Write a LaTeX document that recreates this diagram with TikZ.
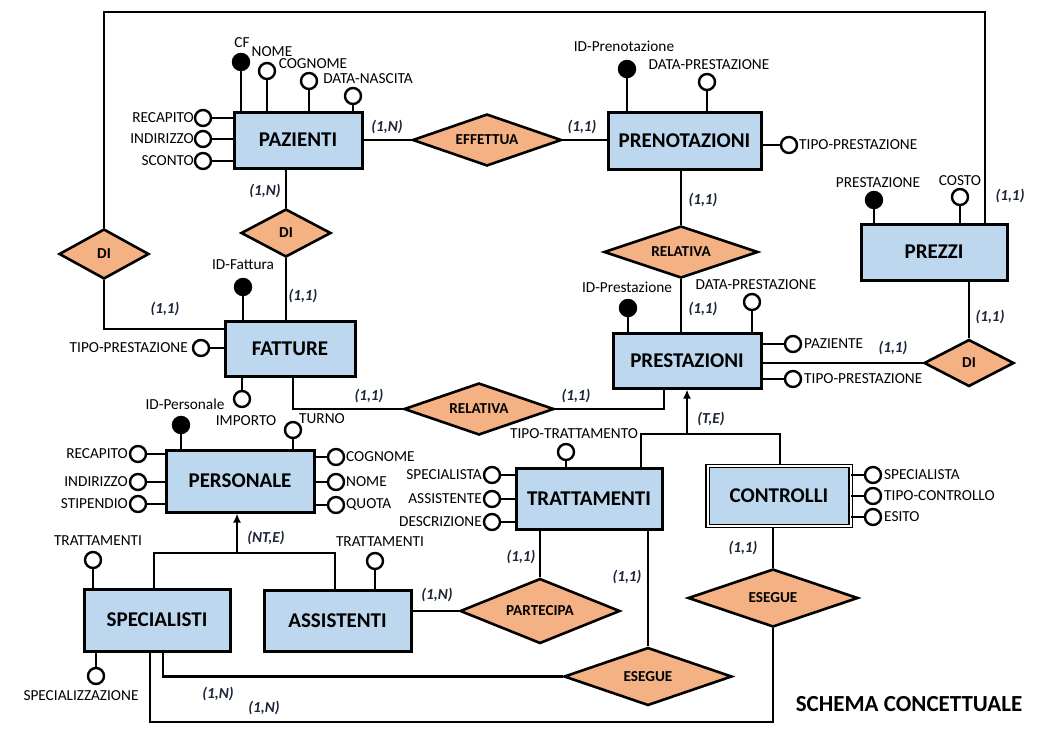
\documentclass[tikz,border=0pt]{standalone}
\usepackage{fontspec}
\setmainfont{Carlito}
\usetikzlibrary{shapes.geometric,arrows.meta}
\definecolor{entblue}{RGB}{189,215,238}
\definecolor{relorange}{RGB}{244,177,131}
\definecolor{cardnavy}{RGB}{28,36,58}

\begin{document}
\begin{tikzpicture}[x=1pt,y=-1pt,
  ent/.style={draw,line width=3pt,fill=entblue,inner sep=0pt,font=\bfseries\fontsize{21}{25}\selectfont},
  rel/.style={diamond,draw,line width=2.6pt,fill=relorange,inner sep=0pt,aspect=2,font=\bfseries\fontsize{15.2}{18}\selectfont},
  att/.style={circle,draw,line width=2.4pt,minimum size=16pt,inner sep=0pt},
  lbl/.style={inner sep=0pt,font=\fontsize{15.3}{18}\selectfont},
  card/.style={inner sep=0pt,text=cardnavy,font=\bfseries\itshape\fontsize{15.3}{18}\selectfont},
  conn/.style={line width=2.6pt},
  isa/.style={conn,-{Latex[length=9pt,width=8pt]}}]
\useasboundingbox (0,0) rectangle (1061,737);

\node[ent,minimum width=128pt,minimum height=56pt] (paz) at (298,140) {PAZIENTI};
\node[ent,minimum width=153pt,minimum height=57pt] (pren) at (684.5,140.5) {PRENOTAZIONI};
\node[ent,minimum width=146pt,minimum height=56pt] (prez) at (934,252) {PREZZI};
\node[ent,minimum width=130pt,minimum height=55pt] (fat) at (290,348.5) {FATTURE};
\node[ent,minimum width=148pt,minimum height=55pt] (prest) at (687,360.5) {PRESTAZIONI};
\node[ent,minimum width=148pt,minimum height=62pt] (pers) at (240,481) {PERSONALE};
\node[ent,minimum width=146pt,minimum height=62pt] (spec) at (157,620) {SPECIALISTI};
\node[ent,minimum width=147pt,minimum height=61pt] (ass) at (337.5,620.5) {ASSISTENTI};
\node[ent,minimum width=146pt,minimum height=61pt] (tratt) at (589,498.5) {TRATTAMENTI};
\node[ent,line width=1.2pt,double=white,double distance=2pt,minimum width=143pt,minimum height=60pt] (contr) at (779,496) {CONTROLLI};

\node[rel,minimum width=149pt,minimum height=52pt] (eff) at (487,140) {EFFETTUA};
\node[rel,minimum width=154pt,minimum height=52pt] (relP) at (681,252) {RELATIVA};
\node[rel,minimum width=90pt,minimum height=50pt] (diL) at (104,254) {DI};
\node[rel,minimum width=90pt,minimum height=48pt] (diM) at (286,233) {DI};
\node[rel,minimum width=90pt,minimum height=47pt] (diR) at (969,363) {DI};
\node[rel,minimum width=150pt,minimum height=52pt] (relF) at (479,409) {RELATIVA};
\node[rel,minimum width=160pt,minimum height=65pt] (part) at (540,611) {PARTECIPA};
\node[rel,minimum width=168pt,minimum height=58pt] (eseT) at (648,676.5) {ESEGUE};
\node[rel,minimum width=170pt,minimum height=58pt] (eseC) at (773,598) {ESEGUE};

\coordinate (fr) at (985,12);
\coordinate (isaT) at (687,434);
\coordinate (isaP) at (237,553);
\draw[conn] (paz.east |- eff.west) -- (eff.west);
\draw[conn] (eff.east) -- (eff.east -| pren.west);
\draw[conn] (relP.north) -- (relP.north |- pren.south);
\draw[conn] (relP.south) -- (relP.south |- prest.north);
\draw[conn] (prest.east |- diR.west) -- (diR.west);
\draw[conn] (diR.north) -- (diR.north |- prez.south);
\draw[conn] (diL.north) |- (fr) -- (fr |- prez.north);
\draw[conn] (diL.south) |- (fat.west |- 0,329);
\draw[conn] (diM.north |- paz.south) -- (diM.north);
\draw[conn] (diM.south) -- (diM.south |- fat.north);
\draw[conn] (fat.south -| 293,0) |- (relF.west);
\draw[conn] (relF.east) -| (prest.south -| 664,0);
\draw[isa] (isaT) -- (isaT |- prest.south);
\draw[conn] (tratt.north -| 641,0) |- (isaT) -| (contr.north -| 780,0);
\draw[isa] (isaP) -- (isaP |- pers.south);
\draw[conn] (spec.north -| 154,0) |- (isaP) -| (ass.north -| 335,0);
\draw[conn] (ass.east |- part.west) -- (part.west);
\draw[conn] (part.north) -- (part.north |- tratt.south);
\draw[conn] (eseT.north) -- (eseT.north |- tratt.south);
\draw[conn] (spec.south -| 163,0) |- (eseT.west);
\draw[conn] (spec.south -| 150,0) |- (eseC.south |- 0,722) -- (eseC.south);
\draw[conn] (eseC.north) -- (eseC.north |- contr.south);

\foreach \x/\y/\f/\n/\tx/\ty/\t in {241/62/black/a/242/43/CF, 267/71/white/b/272/52/NOME,
  309/81/white/c/313/64/COGNOME, 353/96/white/d/368/79/DATA-NASCITA}{
\node[att,fill=\f] (paz\n) at (\x,\y) {};
\draw[conn] (paz\n) -- (paz\n |- paz.north);
\node[lbl] (paz\n t) at (\tx,\ty) {\t};
}
\foreach \y/\n/\t in {118/a/RECAPITO, 139/b/INDIRIZZO, 161/c/SCONTO}{
\node[att] (pazL\n) at (203,\y) {};
\draw[conn] (pazL\n) -- (pazL\n -| paz.west);
\node[lbl,anchor=east] (pazL\n t) at (194,\y) {\t};
}
\foreach \x/\y/\f/\n/\tx/\ty/\t in {627/69/black/a/624/46/ID-Prenotazione, 707/82/white/b/709/65/DATA-PRESTAZIONE}{
\node[att,fill=\f] (pren\n) at (\x,\y) {};
\draw[conn] (pren\n) -- (pren\n |- pren.north);
\node[lbl] (pren\n t) at (\tx,\ty) {\t};
}
\node[att] (prenR) at (789,145) {};
\draw[conn] (prenR) -- (prenR -| pren.east);
\node[lbl,anchor=west] (prenRt) at (799,145) {TIPO-PRESTAZIONE};
\foreach \x/\y/\f/\n/\tx/\ty/\t in {874/200/black/a/878/183/PRESTAZIONE, 960/197/white/b/960/181/COSTO}{
\node[att,fill=\f] (prez\n) at (\x,\y) {};
\draw[conn] (prez\n) -- (prez\n |- prez.north);
\node[lbl] (prez\n t) at (\tx,\ty) {\t};
}
\foreach \x/\y/\f/\n/\tx/\ty/\t in {628/308/black/a/627/287/ID-Prestazione, 752/302/white/b/756/285/DATA-PRESTAZIONE}{
\node[att,fill=\f] (prest\n) at (\x,\y) {};
\draw[conn] (prest\n) -- (prest\n |- prest.north);
\node[lbl] (prest\n t) at (\tx,\ty) {\t};
}
\foreach \y/\n/\t in {344/a/PAZIENTE, 379/b/TIPO-PRESTAZIONE}{
\node[att] (prestR\n) at (793,\y) {};
\draw[conn] (prestR\n) -- (prestR\n -| prest.east);
\node[lbl,anchor=west] (prestR\n t) at (804,\y) {\t};
}
\node[att,fill=black] (fatK) at (243,287) {};
\draw[conn] (fatK) -- (fatK |- fat.north);
\node[lbl] (fatKt) at (243,265) {ID-Fattura};
\node[att] (fatL) at (201,348) {};
\draw[conn] (fatL) -- (fatL -| fat.west);
\node[lbl,anchor=east] (fatLt) at (188,348) {TIPO-PRESTAZIONE};
\node[att] (fatI) at (242,399) {};
\draw[conn] (fatI) -- (fatI |- fat.south);
\node[lbl] (fatIt) at (246,421) {IMPORTO};
\foreach \x/\y/\f/\n/\tx/\ty/\t in {181/425/black/a/185/404/ID-Personale, 293/430/white/b/322/419/TURNO}{
\node[att,fill=\f] (pers\n) at (\x,\y) {};
\draw[conn] (pers\n) -- (pers\n |- pers.north);
\node[lbl] (pers\n t) at (\tx,\ty) {\t};
}
\foreach \y/\n/\t in {454/a/RECAPITO, 482/b/INDIRIZZO, 504/c/STIPENDIO}{
\node[att] (persL\n) at (138,\y) {};
\draw[conn] (persL\n) -- (persL\n -| pers.west);
\node[lbl,anchor=east] (persL\n t) at (128,\y) {\t};
}
\foreach \y/\n/\t in {457/a/COGNOME, 482/b/NOME, 505/c/QUOTA}{
\node[att] (persR\n) at (336,\y) {};
\draw[conn] (persR\n) -- (persR\n -| pers.east);
\node[lbl,anchor=west] (persR\n t) at (346,\y) {\t};
}
\node[att] (specT) at (93,560) {};
\draw[conn] (specT) -- (specT |- spec.north);
\node[lbl] (specTt) at (98,541) {TRATTAMENTI};
\node[att] (specB) at (96,676) {};
\draw[conn] (specB) -- (specB |- spec.south);
\node[lbl] (specBt) at (81,696) {SPECIALIZZAZIONE};
\node[att] (assT) at (375,561) {};
\draw[conn] (assT) -- (assT |- ass.north);
\node[lbl] (assTt) at (380,542) {TRATTAMENTI};
\node[att] (trattT) at (566,452) {};
\draw[conn] (trattT) -- (trattT |- tratt.north);
\node[lbl] (trattTt) at (574,434) {TIPO-TRATTAMENTO};
\foreach \y/\n/\t in {475/a/SPECIALISTA, 499/b/ASSISTENTE, 522/c/DESCRIZIONE}{
\node[att] (trattL\n) at (492,\y) {};
\draw[conn] (trattL\n) -- (trattL\n -| tratt.west);
\node[lbl,anchor=east] (trattL\n t) at (482,\y) {\t};
}
\foreach \y/\n/\t in {475/a/SPECIALISTA, 496/b/TIPO-CONTROLLO, 517/c/ESITO}{
\node[att] (contrR\n) at (873,\y) {};
\draw[conn] (contrR\n) -- (contrR\n -| contr.east);
\node[lbl,anchor=west] (contrR\n t) at (884,\y) {\t};
}

\foreach \x/\y/\t [count=\i] in {387/127/{(1,N)}, 582/127/{(1,1)}, 703/200/{(1,1)}, 703/309/{(1,1)},
  1010/196/{(1,1)}, 990/317/{(1,1)}, 893/348/{(1,1)}, 265/191/{(1,N)}, 303/296/{(1,1)},
  165/309/{(1,1)}, 369/396/{(1,1)}, 576/396/{(1,1)}, 266/538/{(NT,E)}, 711/419/{(T,E)},
  437/595/{(1,N)}, 521/557/{(1,1)}, 627/577/{(1,1)}, 743/548/{(1,1)}, 218/694/{(1,N)}, 264/708/{(1,N)}}{
\node[card] (card\i) at (\x,\y) {\t};
}
\node[inner sep=0pt,font=\bfseries\fontsize{23}{27}\selectfont] (title) at (909,704) {SCHEMA CONCETTUALE};
\end{tikzpicture}
\end{document}
